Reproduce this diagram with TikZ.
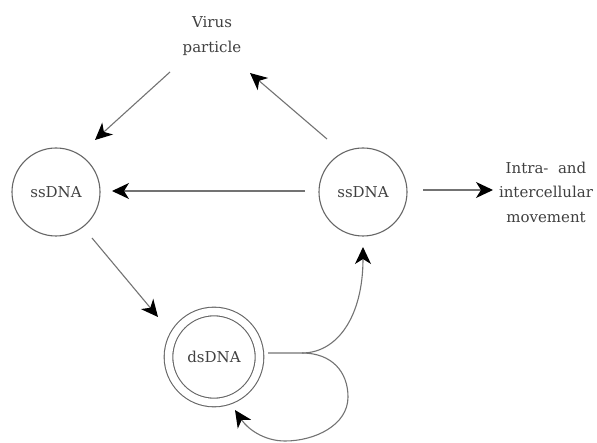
\documentclass[tikz,border=0pt]{standalone}
\usepackage{fontspec}
\setmainfont{DejaVu Serif}
\usetikzlibrary{arrows.meta}
\tikzset{
	dnacirc/.style={circle, draw=black!60, line width=1.1pt, minimum size=88pt, inner sep=0pt},
	lbl/.style={text=black!75, align=center, font=\fontsize{15}{24.5}\selectfont},
	arr/.style={draw=black!55, line width=1.1pt, -{Stealth[length=17pt, width=16pt, inset=5pt, color=black]}}
}

\begin{document}
\begin{tikzpicture}[x=1pt, y=-1pt]
			%%%%% START %%%%%
			\useasboundingbox (0, 0) rectangle (597, 443);
			
			\node[dnacirc, lbl] (ssleft) at (56, 192) {ssDNA};
			\node[dnacirc, lbl] (ssright) at (363, 192) {ssDNA};
			\node[dnacirc, lbl, minimum size=91pt, double, double distance=7.5pt] (dsdna) at (214, 357) {dsDNA};
			
			\node[lbl] (virus) at (212, 36) {Virus\\particle};
			\node[lbl] (move) at (546, 192) {Intra-\ \ and\\intercellular\\movement};
			
			\draw[arr] ([shift={(-42, 36)}]virus.center) -- ([shift={(39, -52)}]ssleft.center);
			\draw[arr] ([shift={(-36, -53)}]ssright.center) -- ([shift={(38, 37)}]virus.center);
			\draw[arr] ([shift={(-58, -1)}]ssright.center) -- ([shift={(56, -1)}]ssleft.center);
			\draw[arr] ([shift={(60, -2)}]ssright.center) -- ([shift={(-53, -2)}]move.center);
			\draw[arr] ([shift={(36, 46)}]ssleft.center) -- ([shift={(-56, -40)}]dsdna.center);
			
			\coordinate (split) at (302, 353);
			\draw[arr] ([shift={(54, -4)}]dsdna.center) -- (split) .. controls +(35, 0) and +(0, 70) .. ([shift={(0, 55)}]ssright.center);
			\draw[arr] (split) .. controls +(30, 0) and +(0, -25) .. (348, 397) .. controls +(0, 28) and +(30, 0) .. (285, 441) .. controls +(-22, 0) and +(12, 18) .. ([shift={(21, 53)}]dsdna.center);
			
			%%%%% END %%%%%
\end{tikzpicture}
\end{document}
